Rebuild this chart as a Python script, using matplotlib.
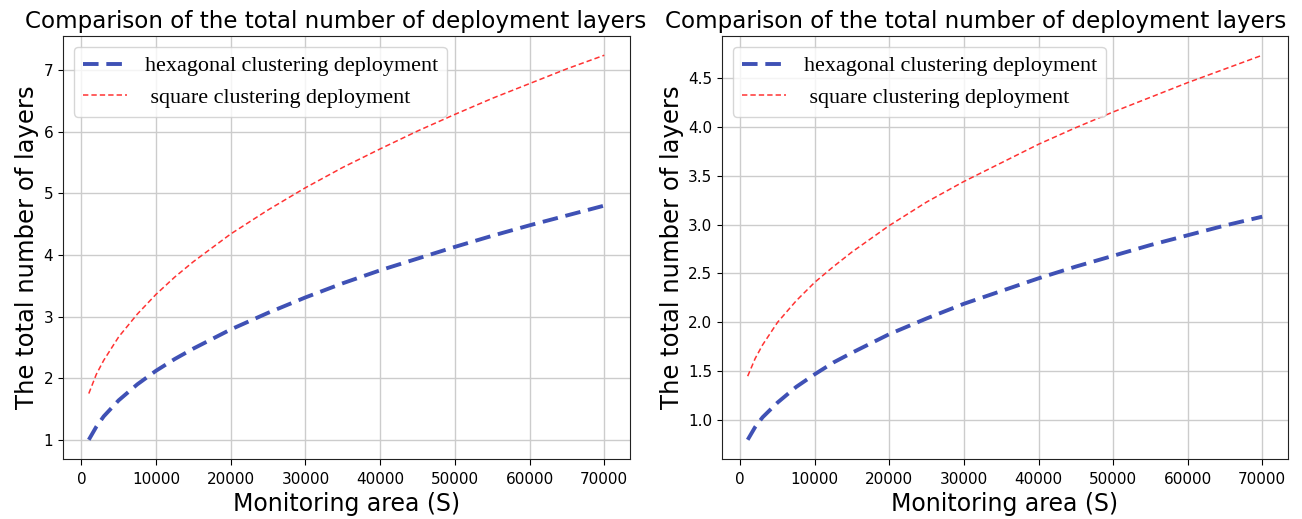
import matplotlib.pyplot as plt

# monitoring area S
area = [1000, 2000, 3000, 5000, 7500, 10000, 12500, 15000, 20000, 25000,
        30000, 35000, 40000, 45000, 50000, 55000, 60000, 65000, 70000]

# left panel
hex_left = [1.00, 1.21, 1.38, 1.64, 1.90, 2.12, 2.31, 2.48, 2.79, 3.06,
            3.31, 3.54, 3.75, 3.94, 4.13, 4.31, 4.48, 4.64, 4.80]
sq_left = [1.75, 2.06, 2.29, 2.67, 3.04, 3.36, 3.64, 3.89, 4.34, 4.73,
           5.09, 5.42, 5.72, 6.01, 6.28, 6.54, 6.78, 7.02, 7.24]

# right panel
hex_right = [0.80, 0.93, 1.03, 1.18, 1.34, 1.47, 1.59, 1.69, 1.88, 2.04,
             2.19, 2.32, 2.45, 2.57, 2.68, 2.79, 2.89, 2.99, 3.08]
sq_right = [1.45, 1.63, 1.77, 2.00, 2.22, 2.41, 2.57, 2.72, 2.99, 3.23,
            3.44, 3.63, 3.82, 3.99, 4.15, 4.30, 4.45, 4.59, 4.73]

title = 'Comparison of the total number of deployment layers'
labels = ['hexagonal clustering deployment', ' square clustering deployment']

fig = plt.figure(figsize=(13.02, 5.19), dpi=100)
ax1 = fig.add_axes([0.0484, 0.1156, 0.4355, 0.815])
ax2 = fig.add_axes([0.5545, 0.1156, 0.4347, 0.815])

for ax, hx, sq, tx in [(ax1, hex_left, sq_left, 0.481),
                       (ax2, hex_right, sq_right, 0.449)]:
    ax.plot(area, hx, color='#3f51b5', linestyle='--', linewidth=2.8,
            dashes=(4, 2), label=labels[0])
    ax.plot(area, sq, color='#ff3333', linestyle='--', linewidth=1.1,
            dashes=(3.5, 2), label=labels[1])
    ax.grid(True, color='#cccccc', linewidth=1)
    ax.set_axisbelow(True)
    ax.tick_params(labelsize=11)
    ax.tick_params(axis='x', length=4.5, pad=4.5)
    ax.set_xlabel('Monitoring area (S)', fontsize=17)
    ax.set_ylabel('The total number of layers', fontsize=17.5, labelpad=3)
    ax.set_title(title, fontsize=16.6, x=tx)
    ax.legend(loc='upper left', prop={'family': 'Liberation Serif', 'size': 15.9},
              framealpha=0.8)
    for s in ax.spines.values():
        s.set_color('#222222')

fig.savefig('out.png', dpi=100)
